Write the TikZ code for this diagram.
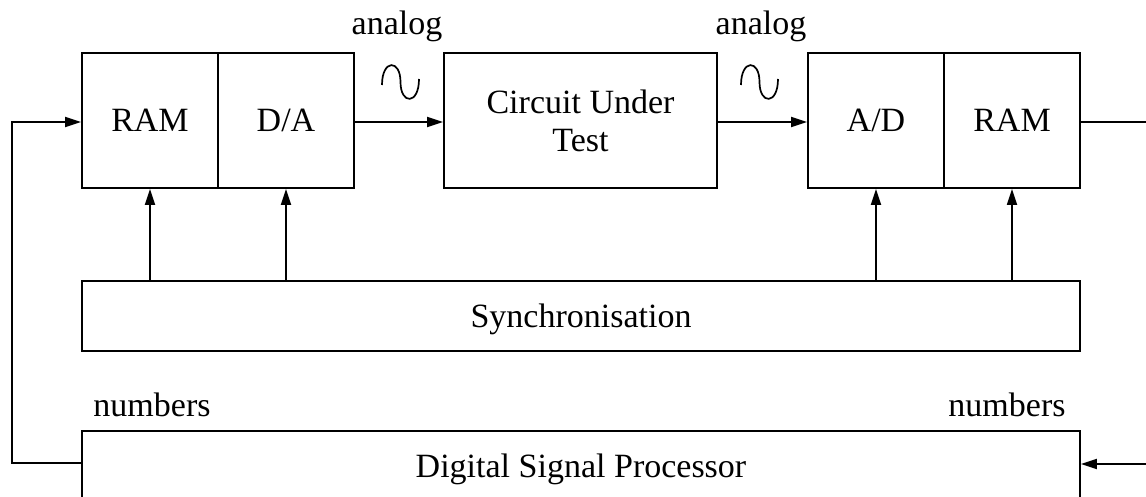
\documentclass[tikz,border=0pt]{standalone}
\usepackage{fontspec}
\setmainfont{Liberation Serif}
\usetikzlibrary{arrows.meta}
\begin{document}
\begin{tikzpicture}[x=1pt,y=-1pt,
  box/.style={draw, line width=1.8pt, inner sep=0pt, text depth=0pt, align=center},
  arr/.style={line width=1.8pt, -{Triangle[length=16pt,width=10pt]}},
  wire/.style={line width=1.8pt},
  wave/.style={line width=1.7pt},
  lbl/.style={anchor=base, inner sep=0pt},
  every node/.style={font=\fontsize{34}{38}\selectfont}]
\useasboundingbox (0,0) rectangle (1146,497);
\clip (0,0) rectangle (1146,497);
% top row
\node[box, minimum width=136pt, minimum height=135pt] (ramL) at (150,120.5) {RAM};
\node[box, minimum width=136pt, minimum height=135pt] (da) at (286,120.5) {D/A};
\node[box, minimum width=273pt, minimum height=135pt] (cut) at (580.5,120.5) {Circuit Under\\Test};
\node[box, minimum width=136pt, minimum height=135pt] (ad) at (876,120.5) {A/D};
\node[box, minimum width=136pt, minimum height=135pt] (ramR) at (1012,120.5) {RAM};
% synchronisation and DSP
\node[box, minimum width=998pt, minimum height=70pt] (sync) at (581,316) {Synchronisation};
\node[box, minimum width=998pt, minimum height=70pt] (dsp) at (581,466) {Digital Signal Processor};
% labels
\node[lbl] (an1) at (397,35) {analog};
\node[lbl] (an2) at (761,35) {analog};
\node[lbl] (nu1) at (152,416) {numbers};
\node[lbl] (nu2) at (1007,416) {numbers};
% sine symbols
\draw[wave] (382,85) .. controls (382,59) and (400.5,59) .. (400.5,82)
                     .. controls (400.5,105) and (419,105) .. (419,79);
\draw[wave] (741,85) .. controls (741,59) and (759.5,59) .. (759.5,82)
                     .. controls (759.5,105) and (778,105) .. (778,79);
% signal path
\draw[arr] (da.east |- 0,122) -- (cut.west |- 0,122);
\draw[arr] (cut.east |- 0,122) -- (ad.west |- 0,122);
\coordinate (outR) at (1146,122);
\draw[wire] (ramR.east |- outR) -- (outR);
% sync arrows
\draw[arr] (ramL.south |- sync.north) -- (ramL.south);
\draw[arr] (da.south |- sync.north) -- (da.south);
\draw[arr] (ad.south |- sync.north) -- (ad.south);
\draw[arr] (ramR.south |- sync.north) -- (ramR.south);
% feedback
\coordinate (fbL) at (12,463);
\draw[arr] (dsp.west |- fbL) -- (fbL) |- (ramL.west |- 0,122);
\coordinate (inR) at (1146,464);
\draw[arr] (inR) -- (inR -| dsp.east);
\end{tikzpicture}
\end{document}
